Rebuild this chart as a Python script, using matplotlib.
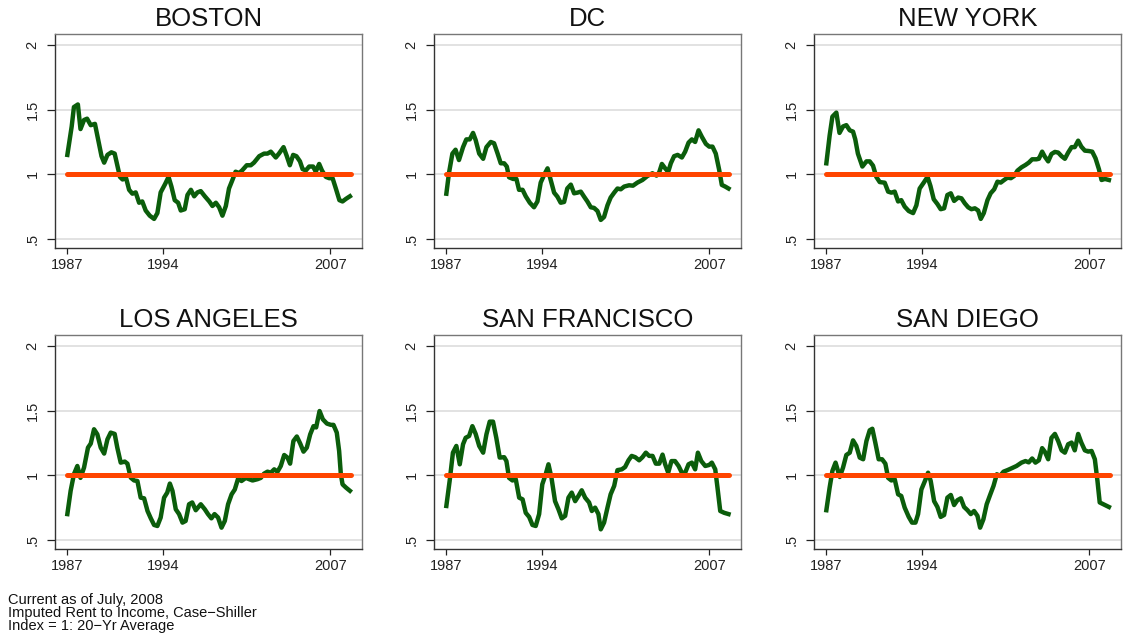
import matplotlib
matplotlib.use("Agg")
import matplotlib.pyplot as plt

plt.rcParams['font.family'] = ['Liberation Sans', 'DejaVu Sans']

cities = ["BOSTON", "DC", "NEW YORK", "LOS ANGELES", "SAN FRANCISCO", "SAN DIEGO"]

boston_years = [1987.0, 1987.33, 1987.5, 1987.8, 1988.0, 1988.27, 1988.5, 1988.78, 1989.1, 1989.4,
                1989.6, 1989.8, 1990.05, 1990.35, 1990.6, 1990.8, 1991.0, 1991.2, 1991.47, 1991.7,
                1991.95, 1992.2, 1992.46, 1992.7, 1992.96, 1993.27, 1993.6, 1993.85, 1994.1, 1994.44,
                1994.7, 1994.92, 1995.17, 1995.43, 1995.63, 1995.93, 1996.14, 1996.4, 1996.65, 1996.9,
                1997.15, 1997.46, 1997.8, 1998.04, 1998.3, 1998.55, 1998.8, 1999.06, 1999.3, 1999.56,
                1999.8, 2000.07, 2000.3, 2000.65, 2000.96, 2001.2, 2001.6, 2001.97, 2002.23, 2002.48,
                2002.86, 2003.1, 2003.45, 2003.7, 2003.93, 2004.18, 2004.43, 2004.7, 2004.9, 2005.15,
                2005.4, 2005.7, 2005.9, 2006.16, 2006.37, 2006.67, 2006.92, 2007.18, 2007.43, 2007.7,
                2007.94, 2008.2, 2008.5]
boston_vals = [1.15, 1.37, 1.52, 1.54, 1.35, 1.42, 1.43, 1.38, 1.39, 1.24,
               1.14, 1.09, 1.15, 1.17, 1.16, 1.07, 0.98, 0.96, 0.97, 0.88,
               0.85, 0.86, 0.78, 0.79, 0.72, 0.68, 0.655, 0.70, 0.86, 0.925,
               0.98, 0.905, 0.80, 0.78, 0.72, 0.73, 0.84, 0.88, 0.83, 0.86,
               0.87, 0.83, 0.79, 0.755, 0.78, 0.745, 0.68, 0.755, 0.89, 0.956,
               1.02, 1.01, 1.03, 1.07, 1.07, 1.09, 1.14, 1.16, 1.16, 1.175,
               1.13, 1.16, 1.21, 1.14, 1.07, 1.15, 1.14, 1.10, 1.04, 1.03,
               1.06, 1.06, 1.02, 1.08, 1.03, 0.98, 0.97, 0.97, 0.89, 0.80,
               0.79, 0.81, 0.83]

dc_years = [1987.0, 1987.2, 1987.46, 1987.7, 1987.96, 1988.27, 1988.52, 1988.78, 1989.03, 1989.23,
            1989.5, 1989.8, 1990.05, 1990.38, 1990.63, 1990.9, 1991.14, 1991.4, 1991.6, 1991.77,
            1992.08, 1992.33, 1992.53, 1992.8, 1993.04, 1993.35, 1993.67, 1993.93, 1994.18, 1994.44,
            1994.7, 1994.94, 1995.2, 1995.45, 1995.7, 1995.96, 1996.2, 1996.47, 1996.72, 1996.97,
            1997.23, 1997.48, 1997.73, 1997.99, 1998.24, 1998.5, 1998.75, 1999.0, 1999.26, 1999.5,
            1999.77, 2000.02, 2000.27, 2000.53, 2000.9, 2001.2, 2001.54, 2001.92, 2002.3, 2002.68,
            2002.99, 2003.19, 2003.4, 2003.62, 2003.88, 2004.08, 2004.33, 2004.6, 2004.92, 2005.17,
            2005.43, 2005.68, 2005.93, 2006.19, 2006.44, 2006.75, 2007.0, 2007.25, 2007.5, 2007.76,
            2007.96, 2008.22, 2008.47]
dc_vals = [0.85, 1.01, 1.16, 1.19, 1.11, 1.21, 1.27, 1.27, 1.32, 1.265,
           1.16, 1.12, 1.21, 1.25, 1.24, 1.16, 1.085, 1.085, 1.06, 0.977,
           0.964, 0.964, 0.88, 0.88, 0.83, 0.78, 0.745, 0.79, 0.936, 0.995,
           1.046, 0.956, 0.858, 0.827, 0.78, 0.786, 0.89, 0.92, 0.853, 0.858,
           0.866, 0.827, 0.79, 0.745, 0.74, 0.716, 0.647, 0.67, 0.76, 0.82,
           0.858, 0.89, 0.884, 0.905, 0.915, 0.912, 0.936, 0.956, 0.987, 1.008,
           0.99, 1.013, 1.08, 1.05, 1.018, 1.085, 1.14, 1.15, 1.13, 1.175,
           1.245, 1.27, 1.25, 1.34, 1.29, 1.235, 1.214, 1.214, 1.16, 1.034,
           0.918, 0.905, 0.89]

ny_years = [1987.0, 1987.25, 1987.46, 1987.76, 1988.0, 1988.27, 1988.52, 1988.78, 1989.03, 1989.2,
            1989.4, 1989.74, 1990.05, 1990.3, 1990.55, 1990.8, 1991.06, 1991.44, 1991.7, 1991.95,
            1992.2, 1992.46, 1992.7, 1992.96, 1993.27, 1993.6, 1993.85, 1994.1, 1994.44, 1994.7,
            1994.92, 1995.17, 1995.45, 1995.7, 1995.96, 1996.21, 1996.47, 1996.72, 1997.03, 1997.28,
            1997.53, 1997.79, 1998.04, 1998.3, 1998.55, 1998.75, 1998.98, 1999.26, 1999.5, 1999.77,
            2000.02, 2000.27, 2000.53, 2000.78, 2001.04, 2001.29, 2001.54, 2001.85, 2002.15, 2002.4,
            2002.66, 2002.99, 2003.17, 2003.42, 2003.62, 2003.88, 2004.13, 2004.39, 2004.64, 2004.9,
            2005.15, 2005.4, 2005.66, 2005.9, 2006.16, 2006.4, 2006.67, 2006.97, 2007.23, 2007.48,
            2007.74, 2007.94, 2008.2, 2008.5]
ny_vals = [1.085, 1.30, 1.446, 1.477, 1.32, 1.37, 1.38, 1.34, 1.33, 1.27,
           1.16, 1.06, 1.10, 1.10, 1.067, 0.98, 0.94, 0.935, 0.866, 0.858,
           0.866, 0.79, 0.80, 0.75, 0.716, 0.70, 0.76, 0.89, 0.94, 0.98,
           0.91, 0.807, 0.77, 0.73, 0.737, 0.84, 0.853, 0.794, 0.82, 0.814,
           0.776, 0.745, 0.73, 0.737, 0.72, 0.655, 0.70, 0.80, 0.853, 0.884,
           0.943, 0.936, 0.956, 0.974, 0.97, 0.987, 1.028, 1.054, 1.072, 1.09,
           1.116, 1.116, 1.12, 1.175, 1.137, 1.10, 1.157, 1.173, 1.168, 1.14,
           1.12, 1.168, 1.21, 1.21, 1.26, 1.214, 1.183, 1.18, 1.175, 1.124,
           1.04, 0.956, 0.964, 0.956]

la_years = [1987.0, 1987.25, 1987.5, 1987.76, 1988.0, 1988.27, 1988.57, 1988.78, 1989.03, 1989.28,
            1989.54, 1989.8, 1990.05, 1990.3, 1990.6, 1990.8, 1991.06, 1991.37, 1991.57, 1991.82,
            1992.08, 1992.33, 1992.58, 1992.84, 1993.1, 1993.35, 1993.6, 1993.85, 1994.1, 1994.36,
            1994.6, 1994.8, 1995.0, 1995.25, 1995.5, 1995.76, 1996.0, 1996.26, 1996.5, 1996.77,
            1997.15, 1997.46, 1997.7, 1997.96, 1998.2, 1998.47, 1998.73, 1998.98, 1999.23, 1999.5,
            1999.74, 2000.0, 2000.25, 2000.58, 2000.83, 2001.09, 2001.47, 2001.72, 2001.97, 2002.23,
            2002.48, 2002.74, 2002.99, 2003.24, 2003.5, 2003.75, 2003.95, 2004.2, 2004.46, 2004.72,
            2004.97, 2005.22, 2005.48, 2005.73, 2005.93, 2006.19, 2006.44, 2006.75, 2007.05, 2007.25,
            2007.5, 2007.68, 2007.81, 2007.94, 2008.2, 2008.5]
la_vals = [0.70, 0.88, 1.008, 1.072, 0.98, 1.06, 1.214, 1.245, 1.356, 1.317,
           1.214, 1.168, 1.278, 1.33, 1.32, 1.214, 1.098, 1.106, 1.09, 0.982,
           0.96, 0.956, 0.827, 0.822, 0.724, 0.667, 0.616, 0.608, 0.673, 0.827,
           0.866, 0.936, 0.879, 0.737, 0.70, 0.634, 0.647, 0.776, 0.79, 0.73,
           0.776, 0.737, 0.70, 0.667, 0.70, 0.673, 0.595, 0.647, 0.776, 0.853,
           0.89, 0.977, 0.956, 0.98, 0.97, 0.96, 0.97, 0.98, 1.013, 1.028,
           1.02, 1.046, 1.028, 1.072, 1.157, 1.137, 1.09, 1.265, 1.30, 1.245,
           1.183, 1.214, 1.317, 1.38, 1.37, 1.497, 1.433, 1.40, 1.39, 1.39,
           1.33, 1.188, 1.008, 0.93, 0.905, 0.88]

sf_years = [1987.0, 1987.25, 1987.5, 1987.76, 1988.02, 1988.27, 1988.47, 1988.73, 1988.98, 1989.23,
            1989.5, 1989.8, 1990.05, 1990.3, 1990.55, 1990.8, 1991.06, 1991.4, 1991.57, 1991.77,
            1992.03, 1992.28, 1992.54, 1992.8, 1993.04, 1993.3, 1993.55, 1993.8, 1994.06, 1994.3,
            1994.56, 1994.77, 1995.0, 1995.27, 1995.53, 1995.78, 1996.04, 1996.29, 1996.54, 1996.8,
            1997.05, 1997.3, 1997.56, 1997.86, 1998.07, 1998.32, 1998.57, 1998.75, 1999.0, 1999.26,
            1999.5, 1999.77, 2000.02, 2000.35, 2000.6, 2000.86, 2001.1, 2001.37, 2001.67, 2001.92,
            2002.18, 2002.43, 2002.69, 2002.94, 2003.2, 2003.45, 2003.65, 2003.88, 2004.13, 2004.4,
            2004.67, 2004.92, 2005.17, 2005.43, 2005.68, 2005.93, 2006.14, 2006.4, 2006.7, 2007.0,
            2007.2, 2007.46, 2007.63, 2007.84, 2008.14, 2008.47]
sf_vals = [0.763, 0.956, 1.175, 1.227, 1.085, 1.24, 1.29, 1.304, 1.38, 1.32,
           1.227, 1.175, 1.317, 1.415, 1.415, 1.29, 1.137, 1.14, 1.11, 0.98,
           0.96, 0.97, 0.827, 0.814, 0.71, 0.678, 0.616, 0.608, 0.70, 0.93,
           1.008, 1.085, 0.98, 0.80, 0.737, 0.667, 0.686, 0.827, 0.866, 0.80,
           0.84, 0.884, 0.827, 0.79, 0.724, 0.75, 0.70, 0.582, 0.634, 0.75,
           0.853, 0.918, 1.04, 1.046, 1.064, 1.116, 1.15, 1.14, 1.116, 1.14,
           1.175, 1.15, 1.15, 1.09, 1.09, 1.16, 1.085, 1.02, 1.11, 1.11,
           1.072, 1.02, 1.02, 1.085, 1.098, 1.046, 1.175, 1.11, 1.072, 1.08,
           1.098, 1.046, 0.905, 0.724, 0.71, 0.70]

sd_years = [1987.0, 1987.25, 1987.46, 1987.7, 1988.02, 1988.27, 1988.52, 1988.78, 1989.03, 1989.28,
            1989.54, 1989.8, 1990.05, 1990.3, 1990.5, 1990.73, 1990.98, 1991.24, 1991.49, 1991.7,
            1991.95, 1992.2, 1992.46, 1992.7, 1992.96, 1993.27, 1993.52, 1993.78, 1993.98, 1994.23,
            1994.5, 1994.74, 1994.94, 1995.2, 1995.45, 1995.7, 1995.96, 1996.21, 1996.47, 1996.72,
            1996.97, 1997.23, 1997.48, 1997.74, 1997.99, 1998.24, 1998.5, 1998.7, 1998.95, 1999.2,
            1999.46, 1999.72, 1999.97, 2000.22, 2000.48, 2000.78, 2001.09, 2001.47, 2001.85, 2002.15,
            2002.4, 2002.66, 2002.91, 2003.17, 2003.42, 2003.62, 2003.88, 2004.13, 2004.39, 2004.64,
            2004.9, 2005.15, 2005.4, 2005.66, 2005.9, 2006.16, 2006.4, 2006.67, 2006.92, 2007.18,
            2007.43, 2007.63, 2007.8, 2008.2, 2008.5]
sd_vals = [0.73, 0.905, 1.034, 1.098, 0.987, 1.06, 1.157, 1.175, 1.27, 1.227,
           1.137, 1.124, 1.265, 1.348, 1.36, 1.25, 1.124, 1.124, 1.09, 0.98,
           0.96, 0.97, 0.853, 0.84, 0.75, 0.678, 0.634, 0.634, 0.70, 0.89,
           0.956, 1.02, 0.956, 0.80, 0.755, 0.678, 0.693, 0.827, 0.848, 0.77,
           0.807, 0.822, 0.755, 0.73, 0.70, 0.724, 0.686, 0.595, 0.66, 0.776,
           0.848, 0.918, 1.008, 0.995, 1.028, 1.04, 1.054, 1.072, 1.098, 1.11,
           1.10, 1.13, 1.098, 1.116, 1.21, 1.183, 1.124, 1.29, 1.32, 1.265,
           1.193, 1.175, 1.24, 1.253, 1.193, 1.32, 1.253, 1.193, 1.183, 1.188,
           1.124, 0.956, 0.79, 0.77, 0.755]

years_list = [boston_years, dc_years, ny_years, la_years, sf_years, sd_years]
vals_list = [boston_vals, dc_vals, ny_vals, la_vals, sf_vals, sd_vals]
baseline = 1.0

ytick_vals = [0.5, 1, 1.5, 2]
ytick_labels = [".5", "1", "1.5", "2"]
xtick_vals = [1987, 1994.25, 2007]
xtick_labels = ["1987", "1994", "2007"]

W, H = 1128, 642
fig = plt.figure(figsize=(W / 100, H / 100), dpi=100)

lefts = [55, 434, 814]
tops = [34, 335]
aw, ah = 307, 214

for i, city in enumerate(cities):
    r, c = divmod(i, 3)
    ax = fig.add_axes([lefts[c] / W, 1 - (tops[r] + ah) / H, aw / W, ah / H])
    yrs = years_list[i]
    ax.plot(yrs, vals_list[i], color="#0b5d0b", lw=3.2, solid_joinstyle="round", zorder=3)
    ax.plot([yrs[0], yrs[-1] + 0.05], [baseline, baseline], color="#ff4500", lw=3.6,
            solid_capstyle="round", zorder=4)
    ax.set_xlim(1986.06, 2009.42)
    ax.set_ylim(0.43, 2.085)
    ax.set_yticks(ytick_vals)
    ax.set_yticklabels(ytick_labels, rotation=90, va="center")
    ax.set_xticks(xtick_vals)
    ax.set_xticklabels(xtick_labels)
    ax.grid(axis="y", color="#dddddd", lw=1.2, zorder=0)
    ax.tick_params(axis="y", length=6, width=0.9, pad=5, labelsize=10.5, colors="#222222")
    ax.tick_params(axis="x", length=4, width=0.9, pad=3, labelsize=10.5, colors="#222222")
    for s in ["top", "right"]:
        ax.spines[s].set_color("#777777")
        ax.spines[s].set_linewidth(1.0)
    for s in ["left", "bottom"]:
        ax.spines[s].set_color("#333333")
        ax.spines[s].set_linewidth(1.0)
    ax.set_title(city, fontsize=18.5, pad=6, color="#111111")

notes = ["Current as of July, 2008",
         "Imputed Rent to Income, Case\u2212Shiller",
         "Index = 1: 20\u2212Yr Average"]
for k, line in enumerate(notes):
    fig.text(8 / W, 1 - (604 + 13 * k) / H, line, fontsize=10.5, va="baseline",
             color="#111111")

fig.savefig("out.png", dpi=100, facecolor="white")
